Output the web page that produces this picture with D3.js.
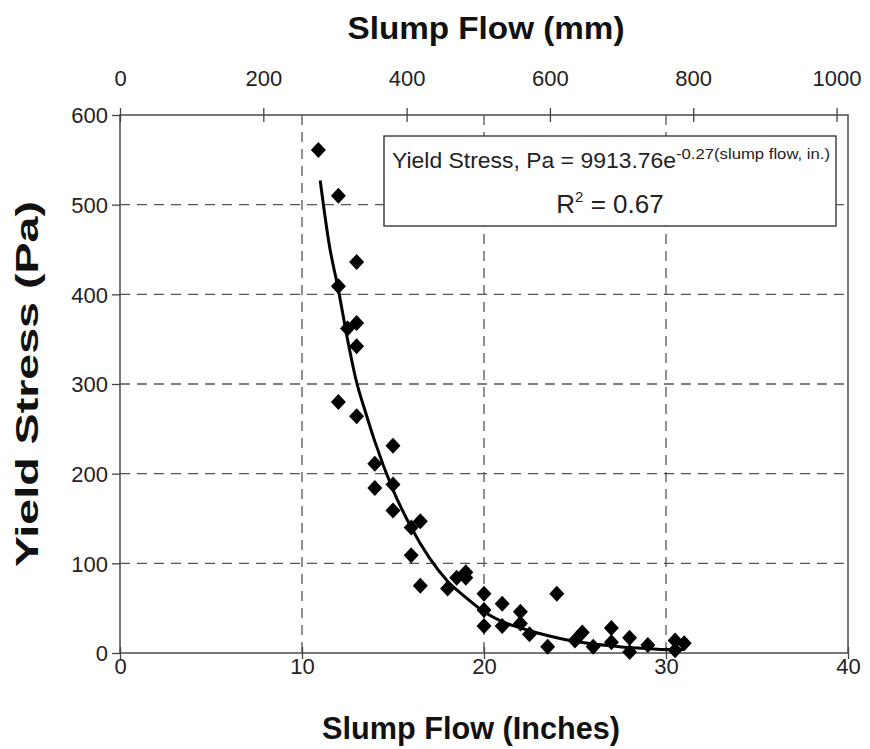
<!DOCTYPE html>
<html>
<head>
<meta charset="utf-8">
<style>
body { margin: 0; background: #fff; }
svg { font-family: "Liberation Sans", Arial, sans-serif; }
.grid line { stroke: #555; stroke-dasharray: 10,7; stroke-width: 1.3; }
.frame { fill: none; stroke: #555; stroke-width: 1.6; }
.axis text { font-size: 22px; fill: #222; }
.axis line, .axis path { stroke: #444; stroke-width: 1.3; }
.title { font-size: 31px; font-weight: bold; fill: #111; }
</style>
</head>
<body>
<script src="https://cdn.jsdelivr.net/npm/d3@7"></script>
<script>

// measured points: slump flow (in) and yield stress (Pa)
var slumpIn = [10.9, 12.0, 12.0, 13.0, 12.5, 13.0, 13.0, 12.0, 13.0, 14.0, 15.0, 14.0, 15.0, 15.0,
               16.0, 16.5, 16.0, 16.5, 18.0, 18.5, 19.0, 19.0, 20.0, 20.0, 20.0, 21.0, 21.0, 22.0,
               22.0, 22.5, 24.0, 23.5, 25.0, 25.4, 26.0, 27.0, 27.0, 28.0, 28.0, 29.0, 30.5, 30.5, 31.0];
var stressPa = [561, 510, 409, 436, 362, 368, 342, 280, 264, 211, 231, 184, 188, 159,
                140, 147, 109, 75, 72, 84, 90, 84, 66, 48, 30, 55, 30, 46,
                33, 21, 66, 7, 14, 23, 7, 28, 12, 17, 1, 9, 14, 3, 11];

// trend line
var trendIn = [11, 11.5, 12, 12.5, 13, 13.5, 14, 15, 16, 17, 18, 19, 20, 21, 22, 23, 24, 25, 26, 27, 28, 29, 30, 31];
var trendPa = [527, 455, 405, 350, 302, 268, 236, 182, 140, 106, 80, 62, 46, 35, 28, 22, 17, 13, 10, 8, 6, 5, 4, 4];

var xTicksIn = [0, 10, 20, 30, 40];
var xTicksMm = [0, 200, 400, 600, 800, 1000];
var yTicks = [0, 100, 200, 300, 400, 500, 600];

var width = 870, height = 749;
var mLeft = 120, mRight = 848, mTop = 115, mBottom = 653;

var svg = d3.select("body").append("svg")
    .attr("width", width)
    .attr("height", height);

var x = d3.scaleLinear().domain([0, 40]).range([mLeft, mRight]);
var xMm = d3.scaleLinear().domain([0, 40 * 25.4]).range([mLeft, mRight]);
var y = d3.scaleLinear().domain([0, 600]).range([mBottom, mTop]);

// grid
var grid = svg.append("g").attr("class", "grid");
grid.selectAll(".h")
    .data(yTicks.filter(function(d) { return d > 0 && d < 600; }))
    .enter().append("line")
    .attr("x1", mLeft).attr("x2", mRight)
    .attr("y1", function(d) { return y(d); })
    .attr("y2", function(d) { return y(d); });
grid.selectAll(".v")
    .data(xTicksIn.filter(function(d) { return d > 0 && d < 40; }))
    .enter().append("line")
    .attr("y1", mTop).attr("y2", mBottom)
    .attr("x1", function(d) { return x(d); })
    .attr("x2", function(d) { return x(d); });

svg.append("rect")
    .attr("class", "frame")
    .attr("x", mLeft).attr("y", mTop)
    .attr("width", mRight - mLeft).attr("height", mBottom - mTop);

// axes (ticks cross the frame line)
var xb = svg.append("g")
    .attr("class", "axis")
    .attr("transform", "translate(0," + mBottom + ")")
    .call(d3.axisBottom(x).tickValues(xTicksIn).tickSize(6));
xb.select(".domain").remove();
xb.selectAll(".tick line").attr("y1", -6);
xb.selectAll(".tick text").attr("y", 13).attr("dy", "0.35em");

var xt = svg.append("g")
    .attr("class", "axis")
    .attr("transform", "translate(0," + mTop + ")")
    .call(d3.axisTop(xMm).tickValues(xTicksMm).tickFormat(d3.format("d")).tickSize(7));
xt.select(".domain").remove();
xt.selectAll(".tick line").attr("y1", 7);
xt.selectAll(".tick text").attr("y", -37).attr("dy", "0.35em");

var ya = svg.append("g")
    .attr("class", "axis")
    .attr("transform", "translate(" + mLeft + ",0)")
    .call(d3.axisLeft(y).tickValues(yTicks).tickSize(8).tickPadding(4));
ya.select(".domain").remove();
ya.selectAll(".tick text").attr("dy", "0.35em");

// trend line
var line = d3.line()
    .x(function(d) { return x(d[0]); })
    .y(function(d) { return y(d[1]); })
    .curve(d3.curveMonotoneX);

svg.append("path")
    .datum(d3.zip(trendIn, trendPa))
    .attr("fill", "none")
    .attr("stroke", "#000")
    .attr("stroke-width", 3)
    .attr("d", line);

// diamonds
svg.selectAll(".pt")
    .data(d3.zip(slumpIn, stressPa))
    .enter().append("path")
    .attr("class", "pt")
    .attr("d", "M0,-8L7.5,0L0,8L-7.5,0Z")
    .attr("fill", "#000")
    .attr("transform", function(d) { return "translate(" + x(d[0]) + "," + y(d[1]) + ")"; });

// legend box
var box = svg.append("g");
box.append("rect")
    .attr("x", 384).attr("y", 136)
    .attr("width", 452).attr("height", 90)
    .attr("fill", "#fff")
    .attr("stroke", "#444")
    .attr("stroke-width", 1.5);
var eq = box.append("text")
    .attr("x", 392).attr("y", 168)
    .attr("font-size", 22).attr("fill", "#222");
eq.append("tspan").attr("textLength", 284).attr("lengthAdjust", "spacingAndGlyphs")
    .text("Yield Stress, Pa = 9913.76e");
eq.append("tspan").attr("font-size", 14).attr("dy", -9)
    .attr("textLength", 154).attr("lengthAdjust", "spacingAndGlyphs")
    .text("-0.27(slump flow, in.)");
var r2 = box.append("text")
    .attr("x", 610).attr("y", 213)
    .attr("text-anchor", "middle")
    .attr("font-size", 26).attr("fill", "#222");
r2.append("tspan").text("R");
r2.append("tspan").attr("font-size", 15).attr("dy", -11).text("2");
r2.append("tspan").attr("dy", 11).text(" = 0.67");

// titles
svg.append("text").attr("class", "title")
    .attr("x", 471).attr("y", 739)
    .attr("text-anchor", "middle")
    .attr("textLength", 298).attr("lengthAdjust", "spacingAndGlyphs")
    .text("Slump Flow (Inches)");
svg.append("text").attr("class", "title")
    .attr("x", 486).attr("y", 39)
    .attr("text-anchor", "middle")
    .attr("textLength", 277).attr("lengthAdjust", "spacingAndGlyphs")
    .text("Slump Flow (mm)");
svg.append("text").attr("class", "title")
    .attr("transform", "translate(38,384) rotate(-90)")
    .attr("text-anchor", "middle")
    .attr("textLength", 366).attr("lengthAdjust", "spacingAndGlyphs")
    .text("Yield Stress (Pa)");

</script>
</body>
</html>
